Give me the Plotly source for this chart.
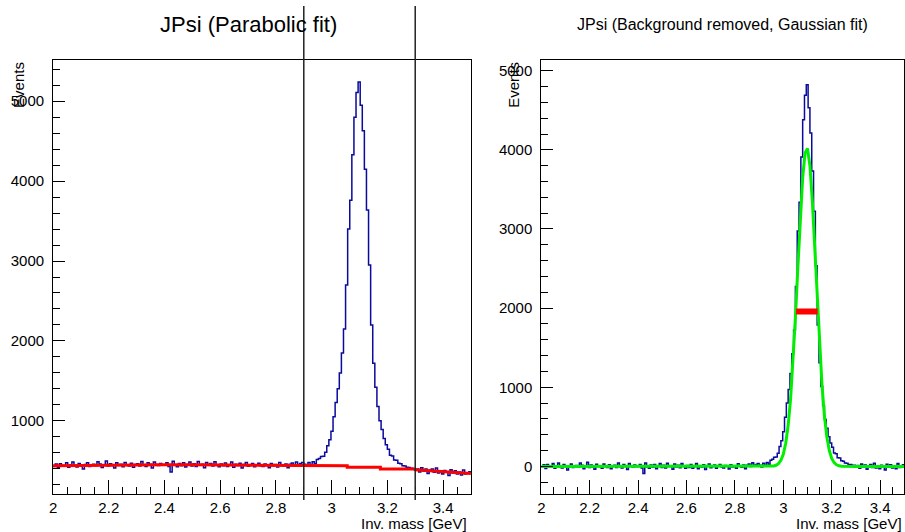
import plotly.graph_objects as go

# ---------------- data ----------------
bin_lo, bin_hi, n_bins = 2.0, 3.5, 200

# Left panel: raw invariant-mass histogram (counts per bin)
counts_raw = [
    427, 459, 412, 464, 442, 433, 475, 418, 450, 484, 435, 421, 465, 446, 398, 452, 475, 429, 441, 456,
    438, 488, 460, 415, 451, 497, 433, 464, 440, 410, 474, 448, 457, 425, 479, 451, 435, 469, 419, 454,
    462, 436, 492, 446, 428, 474, 456, 410, 484, 452, 440, 466, 448, 447, 475, 429, 359, 493, 443, 425,
    467, 439, 475, 421, 453, 485, 435, 463, 429, 491, 447, 455, 413, 479, 443, 465, 433, 487, 451, 425,
    461, 437, 473, 427, 449, 484, 420, 456, 442, 470, 408, 454, 478, 432, 447, 465, 425, 451, 470, 438,
    428, 458, 447, 413, 465, 438, 452, 422, 477, 445, 433, 460, 412, 457, 471, 439, 486, 454, 465, 477,
    455, 432, 478, 450, 488, 465, 515, 528, 552, 556, 605, 688, 762,
    870, 1050, 1230, 1400, 1600, 1850, 2150, 2700, 3400, 3760, 4330, 4800, 5110, 5240,
    4950, 4630, 4150, 3640, 2950, 2200, 1720, 1420, 1180, 1000, 890, 780, 700,
    645, 570, 560, 508, 505, 470, 462, 438, 435, 418, 415, 405, 404, 394,
    397, 359, 412, 372, 396, 340, 381, 397, 357, 410, 348, 376, 334, 379, 363, 315, 386, 346, 374, 334,
    359, 321, 383, 333, 348, 364,
]

# Right panel: background-subtracted histogram
counts_sig = [
    -10, 22, -26, 26, 4, -6, 36, -22, 10, 44, -6, -20, 24, 4, -44, 10, 32, -14, -2, 12,
    -6, 44, 16, -30, 6, 52, -12, 18, -6, -36, 28, 2, 10, -22, 32, 4, -12, 22, -28, 6,
    14, -12, 44, -2, -20, 26, 8, -38, 36, 4, -8, 18, 0, -2, 26, -20, -90, 44, -6, -24,
    18, -10, 26, -28, 4, 36, -14, 14, -20, 42, -2, 6, -36, 30, -6, 16, -16, 38, 2, -24,
    12, -12, 24, -22, 0, 36, -28, 8, -6, 22, -40, 6, 30, -16, 0, 18, -22, 4, 24, -8,
    -18, 12, 2, -32, 20, -6, 8, -22, 34, 2, -10, 18, -30, 16, 30, -2, 46, 14, 26, 38,
    16, -7, 40, 12, 50, 28, 78, 91, 115, 119, 168, 251, 325,
    440, 621, 802, 972, 1173, 1424, 1725, 2275, 2976, 3337, 3908, 4379, 4690, 4821,
    4532, 4213, 3734, 3225, 2536, 1787, 1309, 1010, 771, 592, 484, 375, 296,
    243, 169, 160, 109, 107, 73, 66, 43, 41, 25, 24, 15, 15, 6,
    12, -24, 30, -8, 18, -36, 6, 24, -14, 40, -20, 10, -30, 16, 2, -44, 28, -10, 20, -18,
    8, -28, 36, -12, 4, 22,
]

# Parabolic background fit (as drawn)
fit_x = [2.0, 2.1, 2.2, 2.3, 2.4, 2.5, 2.6, 2.7, 2.8, 2.9, 2.925, 3.056, 3.056, 3.175, 3.175,
         3.294, 3.3, 3.35, 3.4, 3.45, 3.5]
fit_y = [437, 442, 446, 448, 449, 449, 448, 446, 443, 439, 437, 437, 418, 418, 397,
         397, 386, 375, 364, 352, 341]

# Fit exclusion window
window_x = [2.9, 3.3]

# Gaussian fit curve (as drawn)
gaus_x = [2.0, 2.9, 2.95, 2.96, 2.97, 2.98, 2.99, 3.00, 3.01, 3.02, 3.03, 3.04, 3.05, 3.06, 3.07,
          3.08, 3.09, 3.10, 3.11, 3.12, 3.13, 3.14, 3.15, 3.16, 3.17, 3.18, 3.19, 3.20, 3.21,
          3.22, 3.23, 3.24, 3.3, 3.5]
gaus_y = [0, 0, 1, 6, 15, 35, 77, 155, 293, 517, 852, 1309, 1876, 2509, 3131,
          3646, 3962, 4017, 3800, 3356, 2765, 2125, 1524, 1020, 637, 371, 202, 102, 48,
          21, 8, 3, 0, 0]

# FWHM marker
fwhm_x = [3.053, 3.142]
fwhm_y = [1957, 1957]

xticks = [2, 2.2, 2.4, 2.6, 2.8, 3, 3.2, 3.4]

# ---------------- build ----------------
width = (bin_hi - bin_lo) / n_bins
edges = [bin_lo + width * i for i in range(n_bins + 1)]


def step(vals):
    return edges, list(vals) + [vals[-1]]


BLUE = "#0a0a9c"
FONT = "Liberation Sans, Arial, sans-serif"

fig = go.Figure()
sx, sy = step(counts_raw)
fig.add_trace(go.Scatter(x=sx, y=sy, mode="lines", line=dict(color=BLUE, width=1.5, shape="hv"),
                         xaxis="x", yaxis="y", showlegend=False))
fig.add_trace(go.Scatter(x=fit_x, y=fit_y, mode="lines", line=dict(color="#ff0000", width=3),
                         xaxis="x", yaxis="y", showlegend=False))

sx2, sy2 = step(counts_sig)
fig.add_trace(go.Scatter(x=sx2, y=sy2, mode="lines", line=dict(color=BLUE, width=1.5, shape="hv"),
                         xaxis="x2", yaxis="y2", showlegend=False))
fig.add_trace(go.Scatter(x=gaus_x, y=gaus_y, mode="lines", line=dict(color="#00ee00", width=3),
                         xaxis="x2", yaxis="y2", showlegend=False))
fig.add_trace(go.Scatter(x=fwhm_x, y=fwhm_y, mode="lines", line=dict(color="#ff0000", width=6),
                         xaxis="x2", yaxis="y2", showlegend=False))

W, H = 905, 532
ydom = [(H - 494) / H, (H - 60) / H]


def xax(domain, anchor):
    return dict(domain=domain, anchor=anchor, range=[bin_lo, bin_hi], tickmode="array",
                tickvals=xticks, ticktext=[f"{v:g}" for v in xticks],
                ticks="inside", ticklen=14, tickwidth=1, tickcolor="black",
                showline=True, linecolor="black", linewidth=1, mirror=True,
                showgrid=False, zeroline=False,
                tickfont=dict(family=FONT, size=15, color="black"),
                minor=dict(ticks="inside", ticklen=7, tickwidth=1, tickcolor="black",
                           tickmode="linear", tick0=2, dtick=0.05, showgrid=False))


def yax(domain, anchor, rng):
    return dict(domain=domain, anchor=anchor, range=rng, tick0=0, dtick=1000,
                ticks="inside", ticklen=12, tickwidth=1, tickcolor="black",
                showline=True, linecolor="black", linewidth=1, mirror=True,
                showgrid=False, zeroline=False, exponentformat="none",
                ticklabelstandoff=5,
                tickfont=dict(family=FONT, size=15, color="black"),
                minor=dict(ticks="inside", ticklen=7, tickwidth=1, tickcolor="black",
                           tick0=0, dtick=200, showgrid=False))


fig.update_layout(
    width=W, height=H, margin=dict(l=0, r=0, t=0, b=0),
    paper_bgcolor="white", plot_bgcolor="white",
    xaxis=xax([49.3 / W, 469 / W], "y"),
    yaxis=yax(ydom, "x", [84, 5516]),
    xaxis2=xax([539.7 / W, 904.3 / W], "y2"),
    yaxis2=yax(ydom, "x2", [-348, 5135]),
)

dom_h = 494 - 60
for xv in window_x:
    fig.add_shape(type="line", xref="x", yref="y domain", x0=xv, x1=xv,
                  y0=-(500 - 494) / dom_h, y1=1 + (60 - 6) / dom_h,
                  line=dict(color="#222222", width=1.5), layer="above")

ann = []
ann.append(dict(text="JPsi (Parabolic fit)", x=246 / W, y=(H - 25) / H, xref="paper", yref="paper",
                showarrow=False, xanchor="center", yanchor="middle",
                font=dict(family=FONT, size=22, color="black")))
ann.append(dict(text="JPsi (Background removed, Gaussian fit)", x=721.5 / W, y=(H - 25) / H,
                xref="paper", yref="paper", showarrow=False, xanchor="center", yanchor="middle",
                font=dict(family=FONT, size=16, color="black")))
for xr in [467 / W, 904 / W]:
    ann.append(dict(text="Inv. mass [GeV]", x=xr, y=(H - 523) / H, xref="paper", yref="paper",
                    showarrow=False, xanchor="right", yanchor="middle",
                    font=dict(family=FONT, size=15, color="black")))
for xc in [14 / W, 511 / W]:
    ann.append(dict(text="Events", x=xc, y=(H - 60) / H, xref="paper", yref="paper",
                    showarrow=False, xanchor="center", yanchor="top", textangle=-90,
                    font=dict(family=FONT, size=15, color="black")))
fig.update_layout(annotations=ann)

fig.write_html("out.html", config={"displayModeBar": False})
